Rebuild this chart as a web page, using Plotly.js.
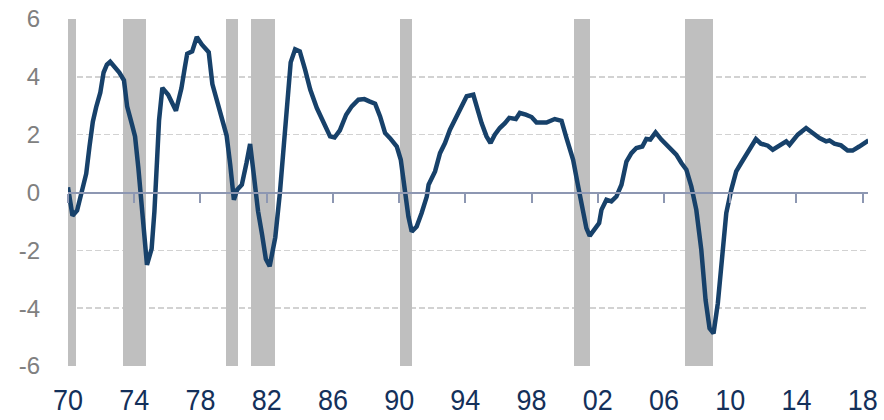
<!DOCTYPE html>
<html>
<head>
<meta charset="utf-8">
<script src="https://cdn.plot.ly/plotly-3.0.1.min.js"></script>
<style>
html,body{margin:0;padding:0;background:#fff;}
#chart{width:884px;height:420px;}
</style>
</head>
<body>
<div id="chart"></div>
<script>
// Series: dates (decimal years) and values
var dates = [1970.00,1970.15,1970.27,1970.55,1970.86,1971.10,1971.30,1971.50,1971.70,1971.95,1972.15,1972.35,1972.55,1972.86,1973.10,1973.38,1973.57,1973.87,1974.05,1974.25,1974.40,1974.55,1974.77,1975.05,1975.22,1975.38,1975.50,1975.70,1976.05,1976.52,1976.85,1977.05,1977.20,1977.50,1977.78,1978.08,1978.50,1978.72,1979.02,1979.25,1979.58,1979.80,1980.02,1980.22,1980.50,1980.78,1981.00,1981.22,1981.48,1981.72,1981.95,1982.18,1982.52,1982.80,1983.05,1983.25,1983.45,1983.72,1984.00,1984.32,1984.63,1985.03,1985.43,1985.83,1986.10,1986.42,1986.80,1987.14,1987.54,1987.90,1988.20,1988.55,1988.85,1989.15,1989.45,1989.86,1990.10,1990.36,1990.56,1990.76,1991.06,1991.36,1991.67,1991.78,1992.17,1992.47,1992.77,1993.07,1993.47,1993.78,1994.08,1994.48,1994.68,1994.98,1995.28,1995.52,1995.78,1996.08,1996.39,1996.65,1997.05,1997.29,1997.65,1998.00,1998.30,1998.90,1999.40,1999.81,2000.11,2000.51,2000.79,2001.11,2001.31,2001.51,2001.82,2002.08,2002.22,2002.52,2002.82,2003.12,2003.43,2003.73,2004.03,2004.33,2004.69,2004.93,2005.17,2005.49,2005.84,2006.04,2006.44,2006.74,2007.05,2007.35,2007.65,2007.95,2008.25,2008.51,2008.75,2008.99,2009.25,2009.52,2009.76,2010.06,2010.36,2010.66,2010.96,2011.27,2011.55,2011.85,2012.27,2012.57,2012.98,2013.38,2013.58,2014.08,2014.58,2014.99,2015.39,2015.79,2015.99,2016.29,2016.69,2017.09,2017.39,2017.79,2018.35];
var values = [0.18,-0.5,-0.8,-0.62,0.09,0.65,1.6,2.45,2.95,3.45,4.15,4.42,4.52,4.3,4.15,3.88,2.98,2.34,1.94,0.85,-0.1,-1.4,-2.5,-1.95,-0.65,1.13,2.5,3.62,3.38,2.83,3.6,4.3,4.8,4.88,5.38,5.12,4.85,3.75,3.15,2.6,1.97,0.95,-0.25,0.1,0.27,1.02,1.68,0.62,-0.65,-1.45,-2.3,-2.55,-1.55,0.0,1.9,3.44,4.5,4.95,4.88,4.25,3.56,2.92,2.4,1.94,1.9,2.15,2.69,2.98,3.21,3.23,3.15,3.07,2.63,2.06,1.88,1.59,1.13,0.09,-0.83,-1.35,-1.18,-0.71,-0.14,0.27,0.73,1.36,1.71,2.17,2.63,3.04,3.33,3.38,2.98,2.4,1.94,1.71,2.0,2.23,2.4,2.58,2.54,2.75,2.69,2.61,2.42,2.42,2.54,2.48,1.88,1.13,0.28,-0.71,-1.23,-1.5,-1.29,-1.06,-0.6,-0.25,-0.31,-0.14,0.27,1.07,1.36,1.54,1.59,1.85,1.83,2.08,1.83,1.71,1.48,1.31,1.02,0.79,0.21,-0.6,-1.98,-3.72,-4.7,-4.87,-3.83,-2.22,-0.71,0.09,0.73,1.02,1.31,1.59,1.85,1.69,1.62,1.48,1.65,1.77,1.65,2.0,2.23,2.06,1.88,1.77,1.8,1.69,1.63,1.45,1.45,1.59,1.8];

// Recession periods (decimal years)
var recessionStart = [1969.9, 1973.33, 1979.56, 1981.07, 1990.05, 2000.55, 2007.27];
var recessionEnd   = [1970.51, 1974.74, 1980.24, 1982.52, 1990.76, 2001.52, 2008.97];

// Axis ticks
var xTickVals = [1970,1974,1978,1982,1986,1990,1994,1998,2002,2006,2010,2014,2018];
var xTickText = ["70","74","78","82","86","90","94","98","02","06","10","14","18"];
var yTickVals = [-6,-4,-2,0,2,4,6];
var yTickText = ["-6","-4","-2","0","2","4","6"];

var yMin = -6, yMax = 6;
var recMid = recessionStart.map(function(s,i){return (s+recessionEnd[i])/2;});
var recWidth = recessionStart.map(function(s,i){return recessionEnd[i]-s;});
var recHeight = recessionStart.map(function(){return yMax - yMin;});

var xRange = [1970, 2018.32];

var traces = [
  {
    type: 'bar', x: recMid, y: recHeight, width: recWidth, base: yMin,
    marker: {color: '#bfbfbf', line: {width: 0}},
    xaxis: 'x', yaxis: 'y', hoverinfo: 'skip', showlegend: false
  },
  {
    type: 'scatter', mode: 'lines', x: dates, y: values,
    line: {color: '#17416a', width: 4.5, shape: 'linear'},
    xaxis: 'x2', yaxis: 'y', cliponaxis: false, showlegend: false
  }
];

var layout = {
  width: 884, height: 420,
  margin: {l: 68, r: 16, t: 19, b: 54, pad: 0},
  paper_bgcolor: '#ffffff', plot_bgcolor: '#ffffff',
  showlegend: false,
  bargap: 0,
  xaxis: {
    range: xRange, tickmode: 'array', tickvals: xTickVals, ticktext: xTickText,
    showgrid: false, zeroline: false, showline: false,
    ticks: 'outside', ticklen: 7, tickcolor: 'rgba(0,0,0,0)',
    tickfont: {family: '"Liberation Sans", Arial, sans-serif', size: 30, color: '#14305a'},
    fixedrange: true
  },
  xaxis2: {
    range: xRange, overlaying: 'x', anchor: 'free', position: 0.5,
    tickmode: 'array', tickvals: xTickVals, showticklabels: false,
    showgrid: false, zeroline: false,
    showline: true, linecolor: '#8d97b2', linewidth: 2,
    ticks: 'outside', ticklen: 9, tickwidth: 2, tickcolor: '#8d97b2',
    fixedrange: true
  },
  yaxis: {
    range: [yMin, yMax], tickmode: 'array', tickvals: yTickVals, ticktext: yTickText,
    showgrid: true, gridcolor: '#d2d2d2', gridwidth: 1.5, griddash: '6px,3px',
    zeroline: false, showline: false,
    ticks: 'outside', ticklen: 22, tickcolor: 'rgba(0,0,0,0)',
    tickfont: {family: '"Liberation Sans", Arial, sans-serif', size: 24, color: '#808080'},
    fixedrange: true
  }
};

Plotly.newPlot('chart', traces, layout, {displayModeBar: false, staticPlot: true}).then(function(gd){
  // narrow the x tick labels slightly (the original uses a condensed face)
  var texts = gd.querySelectorAll('.xaxislayer-above .xtick text');
  texts.forEach(function(t){
    var w = t.getComputedTextLength();
    t.setAttribute('textLength', (w * 0.9).toFixed(1));
    t.setAttribute('lengthAdjust', 'spacingAndGlyphs');
  });
});
</script>
</body>
</html>
